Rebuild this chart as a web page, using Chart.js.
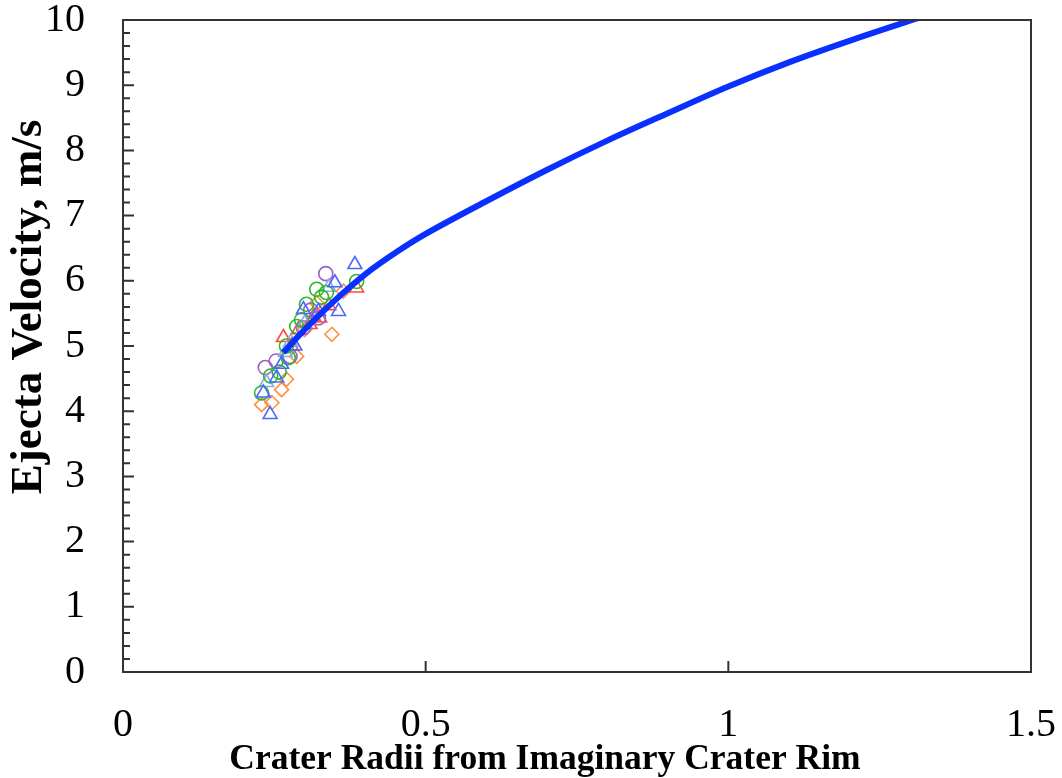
<!DOCTYPE html>
<html>
<head>
<meta charset="utf-8">
<script src="https://cdn.jsdelivr.net/npm/chart.js@4.4.1/dist/chart.umd.min.js"></script>
<style>
html,body{margin:0;padding:0;background:#fff;}
#wrap{width:1062px;height:778px;position:relative;}
</style>
</head>
<body>
<div id="wrap"><canvas id="c"></canvas></div>
<script>
// Fitted curve
const curveX = [0.265, 0.30, 0.35, 0.40, 0.45, 0.50, 0.60, 0.70, 0.80, 0.90, 1.00, 1.10, 1.20, 1.32];
const curveV = [4.90, 5.25, 5.70, 6.10, 6.43, 6.72, 7.22, 7.70, 8.15, 8.57, 8.98, 9.35, 9.68, 10.05];

// Scatter series
const orangeX = [0.229, 0.246, 0.262, 0.270, 0.287, 0.320, 0.345, 0.364, 0.300];
const orangeV = [4.10, 4.13, 4.33, 4.49, 4.84, 5.66, 5.18, 5.84, 5.25];
const redX = [0.265, 0.278, 0.290, 0.309, 0.315, 0.325, 0.386, 0.340];
const redV = [5.13, 5.00, 5.25, 5.33, 5.45, 5.43, 5.89, 5.62];
const greenX = [0.229, 0.244, 0.258, 0.273, 0.270, 0.287, 0.303, 0.320, 0.328, 0.336, 0.386, 0.295];
const greenV = [4.28, 4.54, 4.60, 4.82, 5.00, 5.30, 5.64, 5.87, 5.75, 5.82, 5.99, 5.40];
const purpleX = [0.235, 0.253, 0.276, 0.298, 0.323, 0.335, 0.310];
const purpleV = [4.67, 4.77, 4.84, 5.28, 5.43, 6.11, 5.55];
const blueX = [0.243, 0.232, 0.254, 0.262, 0.284, 0.298, 0.323, 0.350, 0.356, 0.383];
const blueV = [3.95, 4.28, 4.51, 4.72, 5.00, 5.56, 5.53, 5.97, 5.53, 6.25];
const lightX = [0.237, 0.277, 0.300, 0.340, 0.268];
const lightV = [4.44, 5.06, 5.35, 5.90, 4.90];

// Axis ticks and titles
const xMajorTicks = [0.5, 1.0];
const yMinorStep = 0.2;
const xTitle = 'Crater Radii from Imaginary Crater Rim';
const yTitle = 'Ejecta Velocity, m/s';

const pts = (xs, vs) => xs.map((x, i) => ({x: x, y: vs[i]}));

const scatter = (data, color, style, r) => ({
  data: data, showLine: false, pointStyle: style, pointRadius: r, pointHoverRadius: r,
  pointBorderColor: color, pointBackgroundColor: 'rgba(0,0,0,0)', pointBorderWidth: 1.6,
  borderColor: color, backgroundColor: 'rgba(0,0,0,0)'
});

const frame = {
  id: 'frame',
  afterDraw(chart) {
    const {ctx, chartArea: a, scales: {x, y}} = chart;
    ctx.save();
    ctx.strokeStyle = '#333';
    ctx.lineWidth = 2;
    ctx.strokeRect(a.left, a.top, a.right - a.left, a.bottom - a.top);
    ctx.beginPath();
    for (let v = 0; v <= 10.0001; v += yMinorStep) {
      const p = y.getPixelForValue(v);
      const major = Math.abs(v - Math.round(v)) < 1e-6;
      ctx.moveTo(a.left, p);
      ctx.lineTo(a.left + (major ? 11 : 7), p);
    }
    xMajorTicks.forEach(v => {
      const p = x.getPixelForValue(v);
      ctx.moveTo(p, a.bottom);
      ctx.lineTo(p, a.bottom - 11);
    });
    ctx.stroke();
    ctx.fillStyle = '#000';
    ctx.textAlign = 'center';
    ctx.textBaseline = 'middle';
    // x-axis title
    ctx.font = 'bold 35.5px "Liberation Serif"';
    ctx.fillText(xTitle, 545, 759.5);
    // y-axis title
    ctx.translate(29, 307);
    ctx.rotate(-Math.PI / 2);
    ctx.font = 'bold 45px "Liberation Serif"';
    ctx.fillText(yTitle, 0, 0);
    ctx.restore();
  }
};

new Chart(document.getElementById('c'), {
  type: 'scatter',
  data: {
    datasets: [
      {data: pts(curveX, curveV), showLine: true, pointRadius: 0, borderColor: '#0a30ff', borderWidth: 6,
       tension: 0.35, fill: false, order: 0},
      Object.assign(scatter(pts(blueX, blueV), '#4a68ff', 'triangle', 8), {order: 1}),
      Object.assign(scatter(pts(greenX, greenV), '#2eb82e', 'circle', 7), {order: 2}),
      Object.assign(scatter(pts(lightX, lightV), '#88aee8', 'triangle', 8), {order: 3}),
      Object.assign(scatter(pts(purpleX, purpleV), '#a060cc', 'circle', 7), {order: 4}),
      Object.assign(scatter(pts(redX, redV), '#ff4a3a', 'triangle', 8), {order: 5}),
      Object.assign(scatter(pts(orangeX, orangeV), '#ff9040', 'rectRot', 7), {order: 6})
    ]
  },
  options: {
    responsive: true,
    maintainAspectRatio: false,
    animation: false,
    events: [],
    layout: {padding: {top: 20, right: 31, left: 0, bottom: 0}},
    plugins: {legend: {display: false}, tooltip: {enabled: false}},
    scales: {
      x: {
        type: 'linear', min: 0, max: 1.5,
        grid: {display: false}, border: {display: false},
        ticks: {stepSize: 0.5, color: '#000', padding: 21, maxRotation: 0,
                font: {family: 'Liberation Serif', size: 40},
                callback: v => String(v)},
        title: {display: false},
        afterFit(s) { s.height = 106; s.paddingLeft = 0; s.paddingRight = 0; }
      },
      y: {
        type: 'linear', min: 0, max: 10,
        grid: {display: false}, border: {display: false},
        ticks: {stepSize: 1, color: '#000', padding: 30,
                font: {family: 'Liberation Serif', size: 40}},
        title: {display: false},
        afterFit(s) { s.width = 123; s.paddingTop = 0; s.paddingBottom = 0; }
      }
    }
  },
  plugins: [frame]
});
</script>
</body>
</html>
